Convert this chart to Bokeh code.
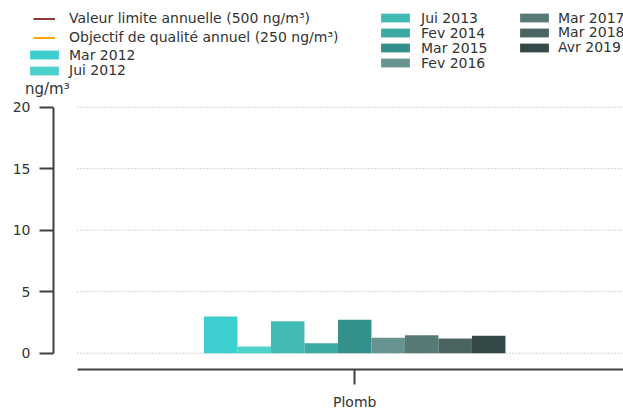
import numpy as np
from bokeh.plotting import figure
from bokeh.models import ColumnDataSource, FixedTicker, Legend, LegendItem, Label, Range1d
from bokeh.embed import file_html
from bokeh.resources import INLINE

# ---------------- data ----------------
CATEGORIES = ["Plomb"]
CAMPAIGNS = ["Mar 2012", "Jui 2012", "Jui 2013", "Fev 2014", "Mar 2015",
             "Fev 2016", "Mar 2017", "Mar 2018", "Avr 2019"]
PLOMB = [2.98, 0.55, 2.6, 0.81, 2.72, 1.25, 1.46, 1.2, 1.41]
COLORS = ["#3dcfcf", "#4bd0cb", "#41bab4", "#3aa9a2", "#33908a",
          "#679490", "#587a76", "#4a6462", "#344947"]
LIMIT_LABEL = "Valeur limite annuelle (500 ng/m³)"
LIMIT_VALUE = 500
OBJ_LABEL = "Objectif de qualité annuel (250 ng/m³)"
OBJ_VALUE = 250
Y_TICKS = [0, 5, 10, 15, 20]
UNIT = "ng/m³"

FONT = "DejaVu Sans"
TXT = "#333333"
AX = "#404040"

# layout helpers (data units: 1 x-unit = one bar width)
X_START, X_END = -10.573, 8.024
Y_AXIS_X = -8.991        # offset position of the y spine
AXIS_X0 = -8.275         # where grid and x spine begin
Y_START, Y_END = -4.577, 28.675
X_AXIS_Y = -1.325        # offset position of the x spine
FRAME_H = 409

p = figure(width=623, height=409, x_range=Range1d(X_START, X_END),
           y_range=Range1d(Y_START, Y_END), output_backend="svg",
           toolbar_location=None, min_border_left=0, min_border_right=0,
           min_border_top=0, min_border_bottom=0, outline_line_color=None)
p.xgrid.visible = False
p.ygrid.visible = False

# dotted horizontal grid (starting right of the offset y spine)
p.segment(x0=[AXIS_X0] * len(Y_TICKS), y0=Y_TICKS, x1=[X_END] * len(Y_TICKS), y1=Y_TICKS,
          line_color="#a8a8a8", line_width=1, line_dash="1 2")

# bars
n = len(CAMPAIGNS)
offsets = np.arange(n) - (n - 1) / 2
src = ColumnDataSource(dict(x=offsets, top=PLOMB, color=COLORS, name=CAMPAIGNS))
bars = p.vbar(x="x", top="top", bottom=0, width=1.0, fill_color="color",
              line_color=None, source=src)

# threshold lines (far above the visible range)
r_lim = p.line(x=[X_START, X_END], y=[LIMIT_VALUE] * 2, line_color="#8b3a3a", line_width=2)
r_obj = p.line(x=[X_START, X_END], y=[OBJ_VALUE] * 2, line_color="#ffa500", line_width=2)

# axes
ya = p.yaxis[0]
ya.fixed_location = Y_AXIS_X
ya.ticker = FixedTicker(ticks=Y_TICKS)
ya.bounds = (Y_TICKS[0], Y_TICKS[-1])
ya.axis_line_width = 2
ya.axis_line_color = AX
ya.major_tick_line_width = 2
ya.major_tick_line_color = AX
ya.major_tick_out = 14
ya.major_tick_in = 0
ya.minor_tick_line_color = None
ya.major_label_standoff = 9
ya.major_label_text_font = FONT
ya.major_label_text_font_size = "14px"
ya.major_label_text_color = TXT

xa = p.xaxis[0]
xa.fixed_location = X_AXIS_Y
xa.ticker = FixedTicker(ticks=[0])
xa.major_label_overrides = {0: CATEGORIES[0]}
xa.bounds = (AXIS_X0, X_END)
xa.axis_line_width = 2
xa.axis_line_color = AX
xa.major_tick_line_width = 2
xa.major_tick_line_color = AX
xa.major_tick_out = 15
xa.major_tick_in = 0
xa.minor_tick_line_color = None
xa.major_label_standoff = 9
xa.major_label_text_font = FONT
xa.major_label_text_font_size = "14px"
xa.major_label_text_color = TXT

p.add_layout(Label(x=Y_AXIS_X - 0.85, y=Y_TICKS[-1] + 1.45, text=UNIT,
                   text_align="left", text_baseline="middle", text_font=FONT,
                   text_font_size="15px", text_color=TXT))


def mk_legend(items, x, top, gw, gh, lh, standoff):
    h = lh * len(items)
    return Legend(items=items, location=(x, FRAME_H - top - h), glyph_width=gw,
                  glyph_height=gh, label_height=lh, spacing=0, padding=0, margin=0,
                  label_standoff=standoff, border_line_color=None,
                  background_fill_alpha=0, label_text_font=FONT,
                  label_text_font_size="14px", label_text_color=TXT)


def bar_item(i):
    return [LegendItem(label=CAMPAIGNS[i], renderers=[bars], index=i)]


# (legend column x, row centre y) in screen pixels
legends = [
    mk_legend([LegendItem(label=LIMIT_LABEL, renderers=[r_lim]),
               LegendItem(label=OBJ_LABEL, renderers=[r_obj])], 33, 8.8, 22, 19, 19, 14),
]
bar_rows = [(26, 54.5, 7), (26, 70.0, 7),
            (377, 17.8, 8), (377, 32.8, 8), (377, 47.8, 8), (377, 62.8, 8),
            (516, 17.5, 6), (516, 32.4, 6), (516, 47.3, 6)]
for i, (lx, cy, so) in enumerate(bar_rows):
    legends.append(mk_legend(bar_item(i), lx, cy - 8, 36, 11, 16, so))
for L in legends:
    p.add_layout(L, "center")

open("out.html", "w").write(file_html(p, INLINE))
